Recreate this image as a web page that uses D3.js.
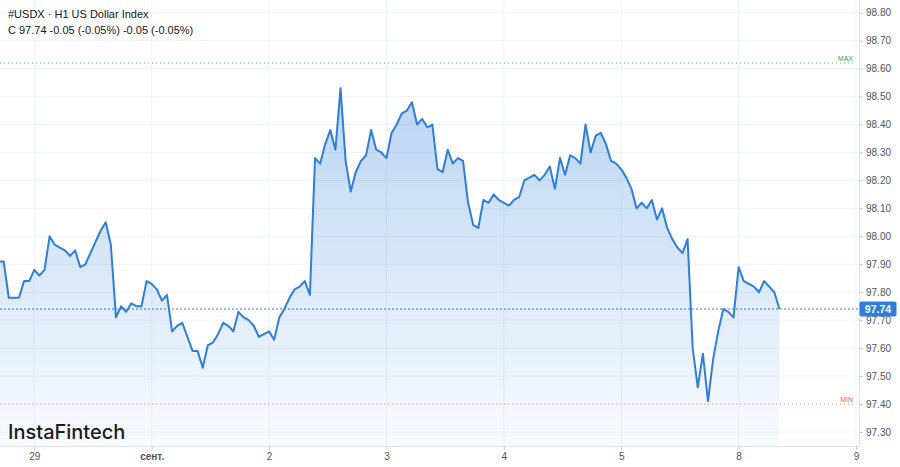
<!DOCTYPE html>
<html>
<head>
<meta charset="utf-8">
<script src="https://cdn.jsdelivr.net/npm/d3@7"></script>
<style>
  html, body { margin: 0; padding: 0; background: #ffffff; }
  svg { display: block; }
</style>
</head>
<body>
<svg id="chart" width="900" height="467"></svg>
<script>
// ---- data ----
const title = "#USDX · H1 US Dollar Index";
const subtitle = "C 97.74 -0.05 (-0.05%) -0.05 (-0.05%)";
const brand = "InstaFintech";
const xTickIdx = [7, 30, 53, 76, 99, 122, 145, 168];
const xTickLabels = ["29", "сент.", "2", "3", "4", "5", "8", "9"];
const yTicks = [97.3, 97.4, 97.5, 97.6, 97.7, 97.8, 97.9, 98.0, 98.1, 98.2, 98.3, 98.4, 98.5, 98.6, 98.7, 98.8];
const prices = [
  97.91, 97.91, 97.78, 97.78, 97.78, 97.84, 97.84, 97.88, 97.86, 97.88,
  98.00, 97.97, 97.96, 97.95, 97.93, 97.95, 97.89, 97.90, 97.94, 97.98,
  98.02, 98.05, 97.97, 97.71, 97.75, 97.73, 97.76, 97.75, 97.75, 97.84,
  97.83, 97.81, 97.77, 97.79, 97.66, 97.68, 97.69, 97.64, 97.59, 97.59,
  97.53, 97.61, 97.62, 97.65, 97.69, 97.68, 97.66, 97.73, 97.71, 97.70,
  97.68, 97.64, 97.65, 97.66, 97.63, 97.71, 97.74, 97.78, 97.81, 97.82,
  97.84, 97.79, 98.28, 98.26, 98.33, 98.38, 98.31, 98.53, 98.27, 98.16,
  98.23, 98.27, 98.29, 98.38, 98.31, 98.30, 98.28, 98.37, 98.40, 98.44,
  98.45, 98.48, 98.40, 98.42, 98.39, 98.40, 98.24, 98.23, 98.31, 98.26,
  98.28, 98.27, 98.12, 98.04, 98.03, 98.13, 98.12, 98.15, 98.13, 98.12,
  98.11, 98.13, 98.14, 98.20, 98.21, 98.22, 98.20, 98.22, 98.25, 98.17,
  98.28, 98.22, 98.29, 98.28, 98.26, 98.40, 98.30, 98.36, 98.37, 98.33,
  98.27, 98.26, 98.24, 98.21, 98.17, 98.10, 98.12, 98.10, 98.13, 98.06,
  98.10, 98.03, 97.99, 97.96, 97.94, 97.99, 97.60, 97.46, 97.58, 97.41,
  97.56, 97.66, 97.74, 97.73, 97.71, 97.89, 97.84, 97.83, 97.82, 97.80,
  97.84, 97.82, 97.80, 97.74
];
const lastPrice = 97.74;
const maxLevel = 98.62;
const minLevel = 97.40;

// ---- layout ----
const plotRight = 859, plotBottom = 446;
const font = "'Liberation Sans', Arial, sans-serif";

const svg = d3.select("#chart");

const x = d3.scaleLinear().domain([7, 168]).range([34.3, 856]);
const y = d3.scaleLinear().domain([97.3, 98.8]).range([432, 12.7]);

const gridColor = "#f0f3f8";

const defs = svg.append("defs");
const grad = defs.append("linearGradient")
  .attr("id", "areaGrad")
  .attr("gradientUnits", "userSpaceOnUse")
  .attr("x1", 0).attr("x2", 0)
  .attr("y1", y(d3.max(prices))).attr("y2", plotBottom);
grad.append("stop").attr("offset", "0%").attr("stop-color", "#2f7ed8").attr("stop-opacity", 0.33);
grad.append("stop").attr("offset", "100%").attr("stop-color", "#2f7ed8").attr("stop-opacity", 0.03);

defs.append("clipPath").attr("id", "plotClip")
  .append("rect").attr("x", 0).attr("y", 0).attr("width", plotRight).attr("height", plotBottom);

// grid
const grid = svg.append("g");
grid.selectAll("line.h").data(yTicks).join("line")
  .attr("x1", 0).attr("x2", plotRight)
  .attr("y1", d => y(d)).attr("y2", d => y(d))
  .attr("stroke", gridColor).attr("stroke-width", 1);
grid.selectAll("line.v").data(xTickIdx).join("line")
  .attr("x1", d => x(d)).attr("x2", d => x(d))
  .attr("y1", 0).attr("y2", plotBottom)
  .attr("stroke", gridColor).attr("stroke-width", 1);

const plot = svg.append("g").attr("clip-path", "url(#plotClip)");

const area = d3.area().x((d, i) => x(i)).y0(plotBottom).y1(d => y(d));
const line = d3.line().x((d, i) => x(i)).y(d => y(d));

plot.append("path").datum(prices).attr("d", area).attr("fill", "url(#areaGrad)");

// max / min levels
plot.append("line")
  .attr("x1", 0).attr("x2", 856)
  .attr("y1", y(maxLevel)).attr("y2", y(maxLevel))
  .attr("stroke", "#26a65b").attr("stroke-width", 1)
  .attr("stroke-dasharray", "1,3").attr("opacity", 0.8);
plot.append("line")
  .attr("x1", 0).attr("x2", 856)
  .attr("y1", y(minLevel)).attr("y2", y(minLevel))
  .attr("stroke", "#ef5350").attr("stroke-width", 1)
  .attr("stroke-dasharray", "1,3").attr("opacity", 0.6);

plot.append("path").datum(prices)
  .attr("d", line)
  .attr("fill", "none")
  .attr("stroke", "#2f7ed8")
  .attr("stroke-width", 2)
  .attr("stroke-linejoin", "round");

// last price line
plot.append("line")
  .attr("x1", 0).attr("x2", plotRight)
  .attr("y1", y(lastPrice)).attr("y2", y(lastPrice))
  .attr("stroke", "#2f7ed8").attr("stroke-width", 1)
  .attr("stroke-dasharray", "2,2");

svg.append("text")
  .attr("x", 853).attr("y", y(maxLevel) - 2)
  .attr("text-anchor", "end")
  .attr("font-family", font).attr("font-size", 7)
  .attr("fill", "#26a65b").text("MAX");
svg.append("text")
  .attr("x", 853).attr("y", y(minLevel) - 2)
  .attr("text-anchor", "end")
  .attr("font-family", font).attr("font-size", 7)
  .attr("fill", "#ef5350").text("MIN");

// axes
const yAxis = d3.axisRight(y).tickValues(yTicks).tickFormat(d3.format(".2f")).tickSize(4).tickPadding(3);
const gy = svg.append("g").attr("transform", `translate(${plotRight},0)`).call(yAxis);
gy.select(".domain").attr("d", `M0.5,0V${plotBottom}`).attr("stroke", "#e0e3eb");
gy.selectAll(".tick line").attr("stroke", "#c8ccd6");
gy.selectAll(".tick text")
  .attr("font-family", font).attr("font-size", 10).attr("fill", "#50535e");

const xAxis = d3.axisBottom(x).tickValues(xTickIdx).tickFormat((d, i) => xTickLabels[i]).tickSize(4).tickPadding(3);
const gx = svg.append("g").attr("transform", `translate(0,${plotBottom})`).call(xAxis);
gx.select(".domain").attr("d", `M0,0.5H${plotRight}`).attr("stroke", "#e0e3eb");
gx.selectAll(".tick line").attr("stroke", "#c8ccd6");
gx.selectAll(".tick text")
  .attr("font-family", font).attr("font-size", 10).attr("fill", "#50535e")
  .attr("font-weight", (d, i) => xTickLabels[i] === "сент." ? "bold" : "normal");

// price label
const py = y(lastPrice);
svg.append("rect")
  .attr("x", plotRight + 0.5).attr("y", py - 7.5)
  .attr("width", 37).attr("height", 15)
  .attr("rx", 2)
  .attr("fill", "#2f7ed8");
svg.append("text")
  .attr("x", plotRight + 19).attr("y", py + 4)
  .attr("text-anchor", "middle")
  .attr("font-family", font).attr("font-size", 10.5).attr("font-weight", "bold")
  .attr("fill", "#ffffff")
  .text(d3.format(".2f")(lastPrice));

// title
svg.append("text")
  .attr("x", 8).attr("y", 18)
  .attr("font-family", font).attr("font-size", 11)
  .attr("fill", "#131722").text(title);
svg.append("text")
  .attr("x", 8).attr("y", 34)
  .attr("font-family", font).attr("font-size", 11)
  .attr("fill", "#131722").text(subtitle);

// brand
svg.append("text")
  .attr("x", 8).attr("y", 439)
  .attr("font-family", "Inter, 'Noto Sans', sans-serif")
  .attr("font-size", 20)
  .attr("font-weight", 500)
  .attr("fill", "#1b1b1f")
  .text(brand);
</script>
</body>
</html>
